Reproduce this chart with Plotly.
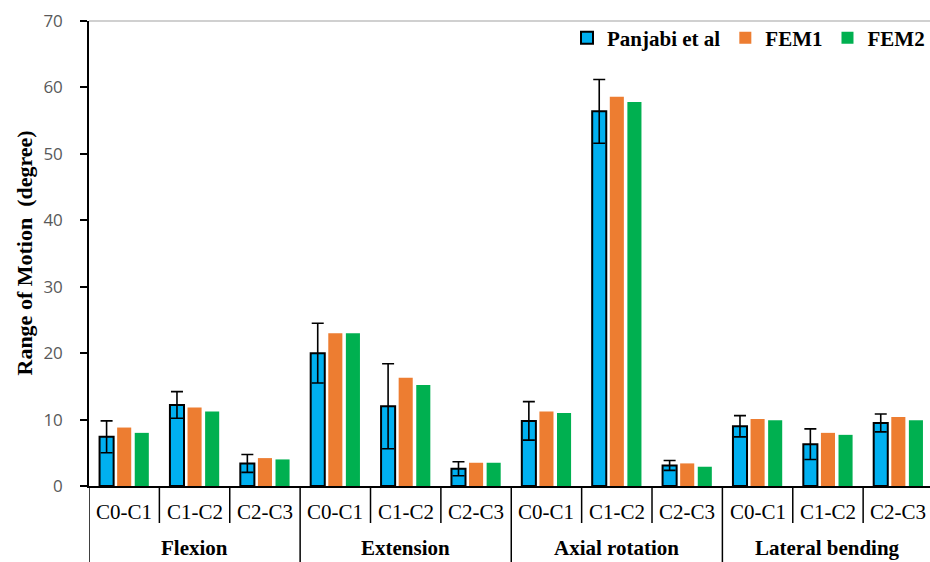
import plotly.graph_objects as go

# Motion types and spinal levels
groups = ["Flexion", "Extension", "Axial rotation", "Lateral bending"]
levels = ["C0-C1", "C1-C2", "C2-C3"]

# Range of motion (degree) per level, in group order
panjabi = [7.4, 12.2, 3.4, 20.0, 12.0, 2.6, 9.8, 56.4, 3.1, 9.0, 6.3, 9.5]
panjabi_sd = [2.4, 2.0, 1.35, 4.5, 6.4, 1.05, 2.9, 4.8, 0.75, 1.6, 2.3, 1.35]
fem1 = [8.8, 11.8, 4.2, 23.0, 16.3, 3.5, 11.2, 58.6, 3.4, 10.1, 8.0, 10.4]
fem2 = [8.0, 11.2, 4.0, 23.0, 15.2, 3.5, 11.0, 57.8, 2.9, 9.9, 7.7, 9.9]

y_ticks = [0, 10, 20, 30, 40, 50, 60, 70]

n_lv = len(levels)
positions = list(range(len(groups) * n_lv))
sub_labels = [lv for _ in groups for lv in levels]

W, H = 930, 562
M_L, M_R, M_T, M_B = 89, 0, 21, 76
X_RANGE = [-0.5, len(positions) - 0.55]

SERIF = "Liberation Serif"

fig = go.Figure()
fig.add_trace(go.Bar(
    x=positions, y=panjabi, name="Panjabi et al",
    marker=dict(color="#00B0F0", line=dict(color="black", width=2)),
    error_y=dict(type="data", array=panjabi_sd, visible=True,
                 color="black", thickness=1.6, width=6),
))
fig.add_trace(go.Bar(
    x=positions, y=fem1, name="FEM1",
    marker=dict(color="#ED7D31", line=dict(width=0)),
))
fig.add_trace(go.Bar(
    x=positions, y=fem2, name="FEM2",
    marker=dict(color="#00B050", line=dict(width=0)),
))

# Paper-space offsets below the x axis, expressed as fractions of plot height
plot_h = H - M_T - M_B
def below(px):
    return -px / plot_h

shapes = []
annotations = []

# Light top border of the plot area
shapes.append(dict(type="line", xref="paper", yref="paper", x0=0, x1=1, y0=1, y1=1,
                   line=dict(color="#D0D0D0", width=2)))

# Separators between levels and between motion groups
for gi in range(len(groups)):
    start = gi * n_lv - 0.5
    shapes.append(dict(type="line", xref="x", yref="paper", x0=start, x1=start,
                       y0=0, y1=below(90), line=dict(color="black", width=1.5)))
    for k in range(1, n_lv):
        xs = start + k
        shapes.append(dict(type="line", xref="x", yref="paper", x0=xs, x1=xs,
                           y0=0, y1=below(37), line=dict(color="black", width=1.5)))

# Level labels
for p, lab in zip(positions, sub_labels):
    annotations.append(dict(x=p, y=below(26), xref="x", yref="paper", text=lab,
                            showarrow=False, yanchor="middle",
                            font=dict(family=SERIF, size=21, color="black")))

# Motion group labels
for gi, g in enumerate(groups):
    annotations.append(dict(x=gi * n_lv + (n_lv - 1) / 2, y=below(62), xref="x", yref="paper",
                            text=g, showarrow=False, yanchor="middle",
                            font=dict(family=SERIF, size=21, color="black", weight="bold")))

# Y-axis title
annotations.append(dict(x=-(M_L - 24) / (W - M_L - M_R), y=0.5, xref="paper", yref="paper",
                        text="Range of Motion  (degree)", textangle=-90, showarrow=False,
                        xanchor="center", yanchor="middle",
                        font=dict(family=SERIF, size=22, color="black", weight="bold")))

fig.update_layout(
    width=W, height=H,
    margin=dict(l=M_L, r=M_R, t=M_T, b=M_B, pad=0),
    paper_bgcolor="white", plot_bgcolor="white",
    barmode="group", bargap=0.25, bargroupgap=0.2,
    showlegend=True,
    legend=dict(orientation="h", x=1.0, xanchor="right", y=0.963, yanchor="middle",
                bgcolor="rgba(0,0,0,0)", font=dict(family=SERIF, size=21, color="black", weight="bold"),
                itemwidth=30, traceorder="normal"),
    xaxis=dict(range=X_RANGE, showticklabels=False, ticks="", showgrid=False, zeroline=False,
               showline=True, linecolor="black", linewidth=1.5),
    yaxis=dict(range=[0, 70], tickvals=y_ticks, ticks="outside", ticklen=7, tickwidth=1.5,
               tickcolor="black", showgrid=False, zeroline=False, showline=True,
               linecolor="black", linewidth=1.5, ticklabelstandoff=14,
               tickfont=dict(family="Open Sans", size=17, color="#595959")),
    shapes=shapes, annotations=annotations,
)

fig.write_html("out.html")
